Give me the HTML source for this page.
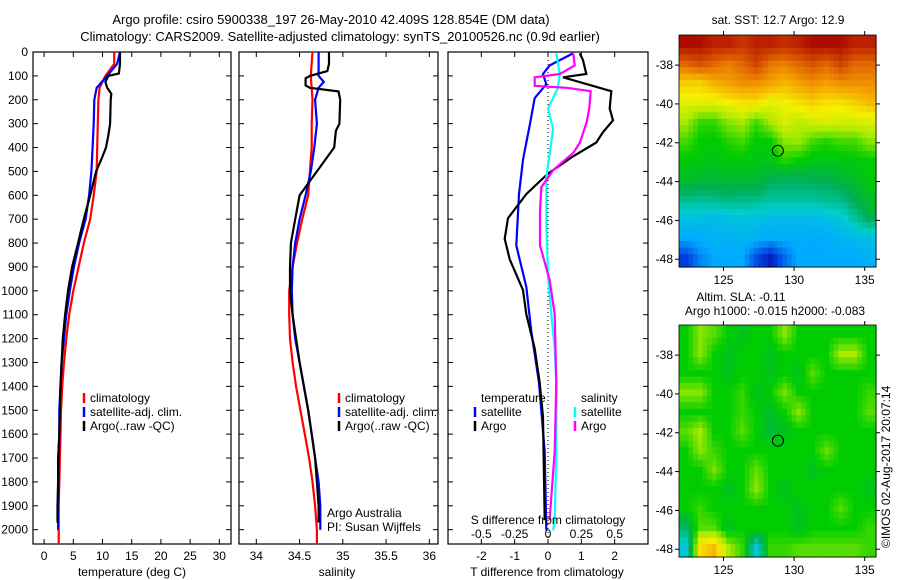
<!DOCTYPE html>
<html><head><meta charset="utf-8">
<style>
html,body{margin:0;padding:0;background:#fff;}
svg{display:block;font-family:"Liberation Sans",sans-serif;}
text{font-size:12px;fill:#000;}
</style></head>
<body>
<svg id="fig" width="900" height="580" viewBox="0 0 900 580" xmlns="http://www.w3.org/2000/svg">
<text x="331" y="24" text-anchor="middle" style="font-size:13px">Argo profile: csiro 5900338_197 26-May-2010 42.409S 128.854E (DM data)</text>
<text x="340" y="41" text-anchor="middle" style="font-size:13px">Climatology: CARS2009. Satellite-adjusted climatology: synTS_20100526.nc (0.9d earlier)</text>
</svg>
<script>
// ---------- data ----------
const depthTicks=[0,100,200,300,400,500,600,700,800,900,1000,1100,1200,1300,1400,1500,1600,1700,1800,1900,2000];
const tempTicks=[0,5,10,15,20,25,30];
const salTicks=[34,34.5,35,35.5,36];
const salTickLabels=["34","34.5","35","35.5","36"];
const tdiffTicks=[-2,-1,0,1,2];
const sdiffTicks=[-0.5,-0.25,0,0.25,0.5];
const sdiffTickLabels=["-0.5","-0.25","0","0.25","0.5"];

const tClimDepth=[0,50,100,150,200,300,400,500,600,700,800,900,1000,1100,1200,1300,1400,1500,1600,1700,1800,1900,2000,2060];
const tClimVal=[12,12,10.5,9.5,9.3,9.2,9.1,9,8.5,7.9,6.8,5.9,5.0,4.3,3.8,3.4,3.1,2.9,2.8,2.7,2.6,2.5,2.5,2.5];
const tSatDepth=[0,50,100,150,200,300,400,500,600,700,800,900,1000,1100,1200,1300,1400,1500,1600,1700,1800,1900,2000];
const tSatVal=[13,12.5,10.8,9,8.6,8.5,8.3,8.1,7.7,7.1,6.0,5.1,4.4,3.8,3.4,3.0,2.8,2.6,2.6,2.5,2.5,2.4,2.4];
const tArgoDepth=[0,50,90,100,125,150,175,200,300,350,400,450,500,600,700,800,900,1000,1100,1200,1300,1400,1500,1600,1700,1800,1900,1970];
const tArgoVal=[13,13,12.8,11,10.5,10.8,11.5,11.4,11.3,11.0,10.6,9.8,8.9,7.9,6.8,5.8,4.8,4.1,3.6,3.2,3.0,2.8,2.7,2.6,2.4,2.4,2.3,2.3];

const sClimDepth=[0,100,200,300,400,500,600,700,800,900,1000,1100,1200,1300,1400,1500,1600,1700,1800,1900,2000,2060];
const sClimVal=[34.65,34.63,34.65,34.64,34.64,34.62,34.6,34.53,34.47,34.42,34.38,34.38,34.39,34.42,34.46,34.51,34.56,34.61,34.65,34.68,34.7,34.7];
const sSatDepth=[0,50,100,125,150,200,300,400,500,600,700,800,900,1000,1100,1200,1300,1400,1500,1600,1700,1800,1900,2000];
const sSatVal=[34.72,34.72,34.72,34.78,34.72,34.68,34.7,34.67,34.63,34.57,34.5,34.45,34.42,34.41,34.42,34.45,34.5,34.55,34.6,34.64,34.68,34.72,34.74,34.74];
const sArgoDepth=[0,50,80,100,110,140,150,165,200,300,330,400,450,500,550,600,700,800,900,1000,1100,1200,1300,1400,1500,1600,1700,1800,1900,1970];
const sArgoVal=[34.84,34.84,34.82,34.62,34.57,34.57,34.62,34.95,34.97,34.96,34.92,34.9,34.8,34.7,34.6,34.5,34.45,34.4,34.39,34.39,34.42,34.46,34.5,34.55,34.6,34.64,34.68,34.7,34.72,34.72];

const dTSatDepth=[6,56,92,135,193,307,451,595,810,983,1170,1385,1673,2003];
const dTSatVal=[0.75,0.05,-0.15,-0.05,-0.4,-0.55,-0.75,-0.87,-0.95,-0.65,-0.5,-0.27,-0.1,-0.05];
const dTArgoDepth=[6,34,92,106,164,236,286,336,379,437,509,595,696,782,868,997,1098,1242,1385,1529,1960];
const dTArgoVal=[0.95,1.05,1.15,0.45,1.9,1.85,1.95,1.65,1.45,0.75,0,-0.65,-1.2,-1.3,-1.15,-0.75,-0.65,-0.4,-0.25,-0.15,-0.1];
const dSSatDepth=[6,92,150,236,322,523,724,940,1098,1242,1385,1673,1960,2003];
const dSSatVal=[0.062,0.088,0.075,0,0.038,-0.012,-0.012,0,0.025,0.05,0.062,0.062,0.05,0.038];
const dSArgoDepth=[6,56,92,106,142,150,164,236,293,379,422,494,566,667,810,954,1098,1385,1673,1960];
const dSArgoVal=[0.19,0.2,0.09,-0.1,-0.1,0.14,0.32,0.31,0.29,0.24,0.19,0.04,-0.05,-0.06,-0.06,0.012,0.05,0.062,0.05,0.012];

const mapLonTicks=[125,130,135];
const mapLatTicks=[-38,-40,-42,-44,-46,-48];
const sstGrid=[
[16.8,16.8,16.5,16.5,16.2,16.5,16.5,16.3,16.5,16.8,16.8,16.8,16.5,16.5],
[15.5,15.8,15.5,15.2,15.5,16,15.3,15.2,15.5,15.8,15.5,16,15.5,15.5],
[14.2,14.2,14.6,14.8,15,15,14.8,14.5,14.8,15,14.8,15,15,15],
[13.6,13.6,13.6,13.8,14,14,13.6,13.8,14,14.2,14,14,14.2,14.5],
[13,12.3,12.3,12.8,13,12.4,13,13.5,13.2,13.4,13.5,13.4,13.4,13.5],
[12.4,12,11.9,12.2,12.4,11.9,12,12.8,12.9,12.4,12.2,12.4,12.4,12.8],
[11.9,11.9,11.8,11.9,11.9,11.8,11.8,12.2,12,11.8,11.8,11.8,11.9,12],
[11.6,11.5,11.4,11.5,11.5,11.5,11.2,11.1,11.1,11.2,11.2,11.4,11.6,11.9],
[10.8,10.7,10.8,10.9,10.8,10.8,10.6,10.6,10.6,10.6,10.7,10.8,11.2,11.6],
[9.8,9.8,9.6,9.8,9.9,9.8,9.7,9.7,9.7,9.7,9.8,10,10.6,11.2],
[9.2,9.3,9.5,9.4,9.5,9.4,9.2,9.3,9.3,9.2,9.3,9.5,9.6,9.8],
[8,8.8,9.2,9.2,9.2,8.2,7.6,8.5,9.2,9.2,9.2,9.2,9.2,9.4]];
const slaGrid=[
[0,0.08,0.05,0,-0.03,0,0,0.08,0,0,0,0,0,0],
[0,0.08,0,-0.03,0,0,-0.03,0,0,0,0,0.1,0.1,0],
[0,0,0,-0.03,0,0,-0.03,0,-0.03,0.05,0,0,0,0],
[0.08,0.08,0,0,0.03,-0.03,0,0.07,0,0,0,0,0,0.03],
[0,0,0,0,0.03,0,-0.04,0,0.08,0,0,0,0,0.05],
[0.05,0.1,0,0,0.05,0,-0.05,-0.03,0,0,0,0,0,0],
[0,0.08,0.03,0,0,0,0,0,0,0,0.06,0,0,0],
[0,0,0.07,0,0,0.06,0,0,0,-0.03,0,0,0,0],
[0,0,0,-0.03,0,0.08,0,-0.03,0,0,0,0,0,-0.03],
[0,0.03,0,0,0,0,0,0,-0.03,0,0,0.05,0,0],
[-0.1,0.05,0.05,-0.03,0,0,0,0,-0.03,0,0,0,0,0.03],
[-0.2,0.2,0.25,0.1,0.03,-0.2,0.03,0.03,0.05,0.05,0.05,0.05,0.05,0.03]];
const argoLon=128.854, argoLat=-42.409;

// ---------- helpers ----------
const NS="http://www.w3.org/2000/svg";
const svg=document.getElementById('fig');
function mk(tag,attrs,parent){const e=document.createElementNS(NS,tag);for(const k in attrs)e.setAttribute(k,attrs[k]);(parent||svg).appendChild(e);return e;}
function txt(x,y,s,anchor,parent){const t=mk('text',{x:x,y:y,'text-anchor':anchor||'middle'},parent);t.textContent=s;return t;}

const TOP=52,BOT=544,DMAX=2060;
const yD=d=>TOP+d/DMAX*(BOT-TOP);
const panels=[{l:33,r:231,x0:-1.9,x1:32},{l:239,r:438,x0:33.8,x1:36.1},{l:448,r:648,x0:-3,x1:3}];
const xT=v=>panels[0].l+(v-panels[0].x0)/(panels[0].x1-panels[0].x0)*(panels[0].r-panels[0].l);
const xS=v=>panels[1].l+(v-panels[1].x0)/(panels[1].x1-panels[1].x0)*(panels[1].r-panels[1].l);
const xDT=v=>panels[2].l+(v-panels[2].x0)/(panels[2].x1-panels[2].x0)*(panels[2].r-panels[2].l);
const xDS=v=>xDT(v*4);

function line(xs,ds,fx,color,name,w){
  const g=mk('polyline',{points:xs.map((v,i)=>fx(v).toFixed(1)+','+yD(ds[i]).toFixed(1)).join(' '),fill:'none',stroke:color,'stroke-width':w||2.2,'stroke-linejoin':'miter'});
  
  
}
function frame(p,name){
  const r=mk('rect',{x:p.l,y:TOP,width:p.r-p.l,height:BOT-TOP,fill:'none',stroke:'#000','stroke-width':1.2});
  
  
  depthTicks.forEach(d=>{const y=yD(d);mk('line',{x1:p.l,x2:p.l+5,y1:y,y2:y,stroke:'#000'});mk('line',{x1:p.r,x2:p.r-5,y1:y,y2:y,stroke:'#000'});});
}

depthTicks.forEach(d=>{const t=txt(28,yD(d)+4,String(d),'end');

});

// panel 1
frame(panels[0],'temperature-panel');
tempTicks.forEach(v=>{const x=xT(v);mk('line',{x1:x,x2:x,y1:TOP,y2:TOP+5,stroke:'#000'});mk('line',{x1:x,x2:x,y1:BOT,y2:BOT-5,stroke:'#000'});
const t=txt(x,560,String(v));

});
line(tClimVal,tClimDepth,xT,'#f00','temp-climatology-line');
line(tSatVal,tSatDepth,xT,'#00f','temp-satellite-line');
line(tArgoVal,tArgoDepth,xT,'#000','temp-argo-line');
txt(132,576,'temperature (deg C)');

// panel 2
frame(panels[1],'salinity-panel');
salTicks.forEach((v,i)=>{const x=xS(v);mk('line',{x1:x,x2:x,y1:TOP,y2:TOP+5,stroke:'#000'});mk('line',{x1:x,x2:x,y1:BOT,y2:BOT-5,stroke:'#000'});
const t=txt(x,560,salTickLabels[i]);

});
line(sClimVal,sClimDepth,xS,'#f00','sal-climatology-line');
line(sSatVal,sSatDepth,xS,'#00f','sal-satellite-line');
line(sArgoVal,sArgoDepth,xS,'#000','sal-argo-line');
txt(337,576,'salinity');

function legend(x,y,items,name){
  const g=mk('g',{});
  
  
  items.forEach((it,i)=>{mk('line',{x1:x,x2:x,y1:y+i*14-9,y2:y+i*14+1,stroke:it[0],'stroke-width':2.5},g);txt(x+6,y+i*14,it[1],'start',g);});
}
legend(84,402,[['#f00','climatology'],['#00f','satellite-adj. clim.'],['#000','Argo(..raw -QC)']],'temperature-legend');
legend(339,402,[['#f00','climatology'],['#00f','satellite-adj. clim.'],['#000','Argo(..raw -QC)']],'salinity-legend');
txt(327,517,'Argo Australia','start');
txt(327,531,'PI: Susan Wijffels','start');

// panel 3
frame(panels[2],'difference-panel');
tdiffTicks.forEach(v=>{const x=xDT(v);mk('line',{x1:x,x2:x,y1:TOP,y2:TOP+5,stroke:'#000'});mk('line',{x1:x,x2:x,y1:BOT,y2:BOT-5,stroke:'#000'});
const t=txt(x,560,String(v));

});
sdiffTicks.forEach((v,i)=>{const t=txt(xDS(v),538,sdiffTickLabels[i]);

});
mk('line',{x1:xDT(0),x2:xDT(0),y1:TOP,y2:BOT,stroke:'#000','stroke-dasharray':'1,3'});
line(dTSatVal,dTSatDepth,xDT,'#00f','tdiff-satellite-line');
line(dTArgoVal,dTArgoDepth,xDT,'#000','tdiff-argo-line');
line(dSSatVal,dSSatDepth,xDS,'#0ff','sdiff-satellite-line');
line(dSArgoVal,dSArgoDepth,xDS,'#f0f','sdiff-argo-line');
txt(481,402,'temperature','start');
txt(581,402,'salinity','start');
legend(475,416,[['#00f','satellite'],['#000','Argo']],'tdiff-legend');
legend(575,416,[['#0ff','satellite'],['#f0f','Argo']],'sdiff-legend');
txt(548,524,'S difference from climatology');
txt(547,576,'T difference from climatology');

// ---------- maps ----------
const palT=[0,0.1,0.22,0.32,0.42,0.5,0.6,0.68,0.78,0.88,1];
const palC=[[0,0,130],[0,60,220],[0,170,255],[0,205,205],[0,175,80],[0,205,0],[170,235,0],[245,240,0],[245,160,0],[215,80,0],[165,0,0]];
function col(t){t=Math.max(0,Math.min(1,t));for(let i=1;i<palT.length;i++){if(t<=palT[i]){const f=(t-palT[i-1])/(palT[i]-palT[i-1]);const a=palC[i-1],b=palC[i];return 'rgb('+a.map((v,k)=>Math.round(v+(b[k]-v)*f)).join(',')+')';}}return 'rgb(165,0,0)';}
const LON0=121.85,LON1=135.8,LAT0=-36.45,LAT1=-48.4,ML=679,MR=876;
function sample(grid,fr,fc){
  const nr=grid.length,nc=grid[0].length;
  const r=Math.max(0,Math.min(nr-1,fr)),c=Math.max(0,Math.min(nc-1,fc));
  const r0=Math.floor(r),c0=Math.floor(c),r1=Math.min(nr-1,r0+1),c1=Math.min(nc-1,c0+1);
  const a=r-r0,b=c-c0;
  return grid[r0][c0]*(1-a)*(1-b)+grid[r0][c1]*(1-a)*b+grid[r1][c0]*a*(1-b)+grid[r1][c1]*a*b;
}
function drawMap(top,bot,grid,tfun,name){
  const xL=lo=>ML+(lo-LON0)/(LON1-LON0)*(MR-ML);
  const yL=la=>top+(la-LAT0)/(LAT1-LAT0)*(bot-top);
  const g=mk('g',{});
  
  
  const nr=grid.length,nc=grid[0].length,SUB=3;
  for(let r=0;r<nr*SUB;r++)for(let c=0;c<nc*SUB;c++){
    const lo0=LON0+(LON1-LON0)*c/(nc*SUB),lo1=LON0+(LON1-LON0)*(c+1)/(nc*SUB);
    const la0=LAT0+(LAT1-LAT0)*r/(nr*SUB),la1=LAT0+(LAT1-LAT0)*(r+1)/(nr*SUB);
    const v=sample(grid,(r+0.5)/SUB-0.5,(c+0.5)/SUB-0.5);
    const cell=mk('rect',{x:xL(lo0).toFixed(1),y:yL(la0).toFixed(1),width:(xL(lo1)-xL(lo0)+0.6).toFixed(1),height:(yL(la1)-yL(la0)+0.6).toFixed(1),fill:col(tfun(v))},g);
    
    
  }
  mk('rect',{x:ML,y:top,width:MR-ML,height:bot-top,fill:'none',stroke:'#000','stroke-width':0.8});
  mapLonTicks.forEach(v=>{const x=xL(v);mk('line',{x1:x,x2:x,y1:top,y2:top-4,stroke:'#000'});mk('line',{x1:x,x2:x,y1:bot,y2:bot+4,stroke:'#000'});
    const t=txt(x,bot+17,String(v));
    
    });
  mapLatTicks.forEach(v=>{const y=yL(v);mk('line',{x1:ML,x2:ML-4,y1:y,y2:y,stroke:'#000'});mk('line',{x1:MR,x2:MR+4,y1:y,y2:y,stroke:'#000'});
    const t=txt(ML-6,y+4,String(v),'end');
    
    });
  const c=mk('circle',{cx:xL(argoLon),cy:yL(argoLat),r:5.5,fill:'none',stroke:'#000','stroke-width':1});
  
  
}
drawMap(35,267,sstGrid,v=>(v-7)/10,'sst-map');
drawMap(325,557,slaGrid,v=>v+0.5,'sla-map');
txt(778,24,'sat. SST: 12.7 Argo: 12.9');
txt(741,301,'Altim. SLA: -0.11');
txt(775,315,'Argo h1000: -0.015 h2000: -0.083');
const cr=txt(0,0,'©IMOS 02-Aug-2017 20:07:14','start');
cr.setAttribute('transform','translate(890,548) rotate(-90)');


</script>
</body></html>
